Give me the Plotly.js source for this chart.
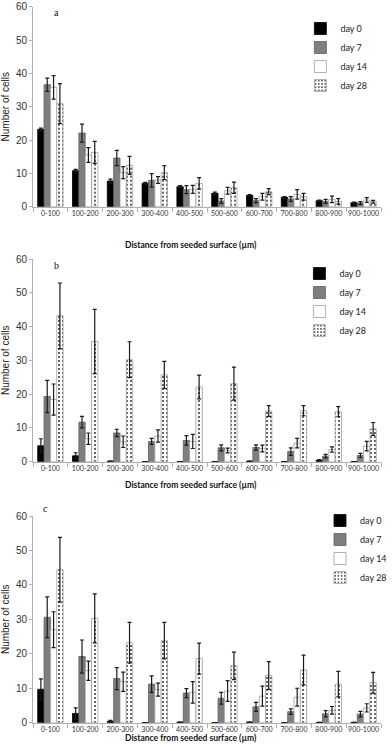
<!DOCTYPE html>
<html>
<head>
<meta charset="utf-8">
<script src="https://cdn.plot.ly/plotly-3.0.1.min.js"></script>
<style>
  html, body { margin: 0; padding: 0; background: #fff; }
  #plot { width: 392px; height: 751px; }
</style>
</head>
<body>
<div id="plot"></div>
<script>
// distance bins (µm)
var bins = ["0-100", "100-200", "200-300", "300-400", "400-500",
            "500-600", "600-700", "700-800", "800-900", "900-1000"];

// panel a
var aDay0 = [23.2, 10.8, 7.7, 7.0, 6.0, 4.0, 3.4, 2.8, 1.8, 1.2];
var aDay0Err = [0.4, 0.4, 0.6, 0.3, 0.3, 0.4, 0.2, 0.2, 0.2, 0.2];
var aDay7 = [36.6, 22.1, 14.6, 7.9, 5.1, 1.7, 1.8, 2.3, 1.6, 1.1];
var aDay7Err = [2.0, 2.7, 2.3, 2.0, 1.2, 0.7, 0.6, 0.7, 0.6, 0.4];
var aDay14 = [35.8, 15.5, 10.2, 8.0, 5.2, 4.8, 3.0, 3.7, 2.2, 2.0];
var aDay14Err = [3.5, 2.2, 1.8, 1.0, 1.2, 1.0, 1.0, 1.4, 1.0, 0.7];
var aDay28 = [30.9, 16.3, 12.4, 10.2, 7.0, 5.7, 4.5, 3.0, 1.6, 1.5];
var aDay28Err = [6.0, 3.3, 2.7, 2.1, 1.7, 1.7, 0.9, 1.0, 0.8, 0.4];

// panel b
var bDay0 = [4.7, 1.75, 0.2, 0.05, 0.05, 0.05, 0.2, 0.05, 0.4, 0.05];
var bDay0Err = [2.1, 0.9, 0, 0, 0, 0, 0, 0, 0.2, 0];
var bDay7 = [19.3, 11.7, 8.5, 6.0, 6.3, 4.1, 4.2, 3.0, 1.65, 1.85];
var bDay7Err = [4.8, 1.7, 1.1, 0.9, 1.4, 0.9, 0.8, 1.1, 0.5, 0.6];
var bDay14 = [18.4, 6.8, 5.9, 7.6, 6.0, 3.3, 3.9, 5.5, 3.6, 4.6];
var bDay14Err = [4.6, 1.7, 1.7, 1.8, 2.1, 0.7, 1.0, 1.4, 0.8, 1.4];
var bDay28 = [43.2, 35.6, 30.2, 25.7, 22.1, 23.1, 15.0, 15.1, 14.8, 9.7];
var bDay28Err = [9.7, 9.5, 5.3, 4.0, 3.5, 4.9, 1.6, 1.5, 1.5, 1.9];

// panel c
var cDay0 = [9.7, 2.7, 0.4, 0.05, 0.2, 0.05, 0.2, 0.05, 0.1, 0.1];
var cDay0Err = [3.0, 1.6, 0.3, 0, 0, 0, 0, 0, 0, 0];
var cDay7 = [30.6, 19.2, 12.8, 11.2, 8.6, 7.1, 4.6, 3.2, 2.6, 2.5];
var cDay7Err = [5.9, 4.8, 3.2, 2.4, 1.3, 1.7, 1.3, 0.8, 0.9, 0.8];
var cDay14 = [27.0, 15.1, 11.9, 9.6, 8.8, 9.2, 7.7, 7.4, 3.6, 4.3];
var cDay14Err = [5.2, 2.8, 2.8, 1.9, 3.1, 3.0, 2.9, 2.6, 1.1, 1.2];
var cDay28 = [44.4, 30.3, 23.2, 23.8, 18.6, 16.5, 13.7, 15.3, 11.2, 11.6];
var cDay28Err = [9.4, 7.1, 5.9, 5.3, 4.5, 4.0, 4.0, 4.3, 3.7, 3.0];

var seriesNames = ["day 0", "day 7", "day 14", "day 28"];

// bar looks for each day
var looks = [
  {color: "#000000", line: {color: "#000000", width: 0.8}},
  {color: "#7f7f7f", line: {color: "#5e5e5e", width: 0.8}},
  {color: "#ffffff", line: {color: "#a0a0a0", width: 0.8}},
  {color: "#ffffff", line: {color: "#a0a0a0", width: 0.8},
   pattern: {shape: ".", fgcolor: "#333333", bgcolor: "#ffffff", size: 4, solidity: 0.2}}
];

function makeTraces(vals, errs, axisNum, legendId) {
  var suffix = axisNum === 1 ? "" : String(axisNum);
  return vals.map(function (v, i) {
    return {
      type: "bar",
      name: seriesNames[i],
      x: bins,
      y: v,
      xaxis: "x" + suffix,
      yaxis: "y" + suffix,
      legend: legendId,
      marker: looks[i],
      error_y: {type: "data", array: errs[i], visible: true,
                color: "#1a1a1a", thickness: 1.2, width: 2}
    };
  });
}

var data = []
  .concat(makeTraces([aDay0, aDay7, aDay14, aDay28],
                     [aDay0Err, aDay7Err, aDay14Err, aDay28Err], 1, "legend"))
  .concat(makeTraces([bDay0, bDay7, bDay14, bDay28],
                     [bDay0Err, bDay7Err, bDay14Err, bDay28Err], 2, "legend2"))
  .concat(makeTraces([cDay0, cDay7, cDay14, cDay28],
                     [cDay0Err, cDay7Err, cDay14Err, cDay28Err], 3, "legend3"));

var H = 751;
function py(p) { return 1 - p / H; }         // pixel row -> paper y
function px(p) { return (p - 33) / 354; }    // pixel col -> paper x

function xAxis(anchor) {
  return {
    anchor: anchor, domain: [0, 1], type: "category",
    showline: true, linecolor: "#b0b0b0", linewidth: 1,
    ticks: "outside", tickson: "boundaries", ticklen: 4, tickcolor: "#b0b0b0",
    tickangle: 0,
    tickfont: {family: "Lato, sans-serif", size: 7, color: "#333"},
    showgrid: false, zeroline: false
  };
}
function yAxis(anchor, dom) {
  return {
    anchor: anchor, domain: dom, range: [0, 60], dtick: 10,
    showline: true, linecolor: "#b0b0b0", linewidth: 1,
    ticks: "outside", ticklen: 3, tickcolor: "#b0b0b0",
    tickfont: {family: "Liberation Sans, Arial, sans-serif", size: 10, color: "#333"},
    showgrid: false, zeroline: false,
    title: {text: "Number of cells", standoff: 6,
            font: {family: "Liberation Sans, Arial, sans-serif", size: 10, color: "#222"}}
  };
}

function legendAt(x, y) {
  return {
    x: px(x), y: py(y), xanchor: "left", yanchor: "top",
    bgcolor: "rgba(0,0,0,0)", borderwidth: 0,
    font: {family: "Lato, sans-serif", size: 9, color: "#222"}
  };
}

var titleFont = {family: "Lato, sans-serif", size: 8.5, color: "#111"};
var xTitle = "<b>Distance from seeded surface (µm)</b>";

var layout = {
  width: 392, height: 751,
  margin: {l: 33, r: 5, t: 0, b: 0},
  paper_bgcolor: "#fff", plot_bgcolor: "#fff",
  barmode: "group", bargap: 0.27, bargroupgap: 0,
  xaxis: xAxis("y"),
  yaxis: yAxis("x", [py(206.7), py(6.7)]),
  xaxis2: xAxis("y2"),
  yaxis2: yAxis("x2", [py(461.7), py(259)]),
  xaxis3: xAxis("y3"),
  yaxis3: yAxis("x3", [py(722.7), py(516)]),
  legend: legendAt(305, 14),
  legend2: legendAt(304, 259),
  legend3: legendAt(325, 506),
  annotations: [
    {text: xTitle, x: px(194), y: py(238), xref: "paper", yref: "paper", showarrow: false, font: titleFont},
    {text: xTitle, x: px(194), y: py(485), xref: "paper", yref: "paper", showarrow: false, font: titleFont},
    {text: xTitle, x: px(194), y: py(745), xref: "paper", yref: "paper", showarrow: false, font: titleFont},
    {text: "a", x: px(52), y: py(5), xref: "paper", yref: "paper", showarrow: false,
     font: {family: "Liberation Serif, serif", size: 10, color: "#111"}},
    {text: "b", x: px(52), y: py(265), xref: "paper", yref: "paper", showarrow: false,
     font: {family: "Liberation Serif, serif", size: 10, color: "#111"}},
    {text: "c", x: px(41), y: py(516), xref: "paper", yref: "paper", showarrow: false,
     font: {family: "Liberation Serif, serif", size: 10, color: "#111"}}
  ]
};

Plotly.newPlot("plot", data, layout, {displayModeBar: false, staticPlot: true});
</script>
</body>
</html>
